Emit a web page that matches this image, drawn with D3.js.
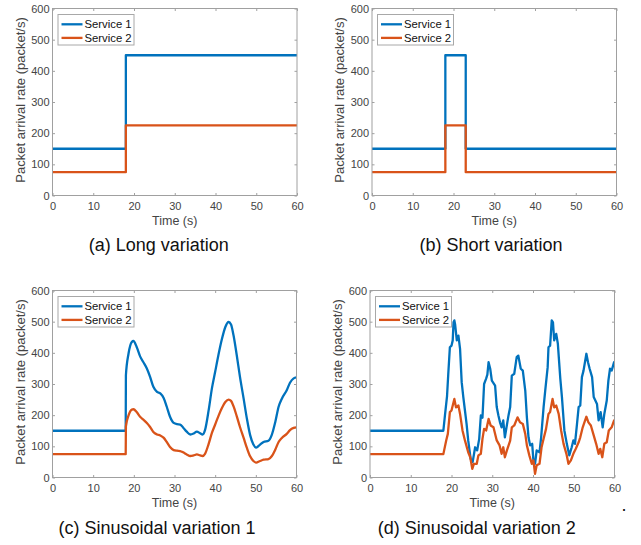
<!DOCTYPE html>
<html>
<head>
<meta charset="utf-8">
<script src="https://cdn.jsdelivr.net/npm/d3@7"></script>
<style>
  html, body { margin: 0; padding: 0; background: #fff; }
  svg { display: block; font-family: "Liberation Sans", Arial, sans-serif; }
</style>
</head>
<body>
<svg id="chart" width="641" height="545"></svg>
<script>
// ---- Axis settings shared by all four panels ----
const xTicks = [0, 10, 20, 30, 40, 50, 60];
const yTicks = [0, 100, 200, 300, 400, 500, 600];
const seriesNames = ["Service 1", "Service 2"];
const xLabel = "Time (s)";
const yLabel = "Packet arrival rate (packet/s)";

// ---- (a) Long variation ----
const timeLong = [0, 18, 18, 60];
const longS1 = [150, 150, 450, 450];
const longS2 = [75, 75, 225, 225];

// ---- (b) Short variation ----
const timeShort = [0, 18, 18, 23, 23, 60];
const shortS1 = [150, 150, 450, 450, 150, 150];
const shortS2 = [75, 75, 225, 225, 75, 75];

// ---- (c) Sinusoidal variation 1 ----
const timeSin1 = [0, 18, 18.05, 18.7, 19.5, 19.9, 20.7, 21.6, 22.4, 23.2, 24.0, 24.8, 25.7,
  26.5, 27.3, 28.1, 28.9, 29.8, 30.6, 31.4, 32.2, 33.0, 33.9, 34.7, 35.5, 36.3, 36.9, 37.5,
  38.4, 39.2, 40.0, 40.8, 41.6, 42.5, 43.3, 43.9, 44.5, 45.3, 46.1, 47.0, 47.8, 48.6, 49.4,
  50.1, 50.9, 51.9, 53.1, 53.9, 54.8, 55.6, 56.4, 57.6, 58.4, 59.3, 60];
const sin1S1 = [150, 150, 328, 398, 435, 438, 419, 387, 369, 350, 323, 291, 275,
  270, 256, 227, 195, 175, 171, 170, 159, 147, 138, 141, 147, 142, 138, 152,
  216, 286, 339, 393, 441, 483, 499, 491, 457, 393, 323, 253, 189, 136, 106,
  96, 104, 114, 118, 136, 179, 227, 253, 280, 304, 318, 321];
const sin1S2 = [75, 75, 164, 199, 218, 219, 210, 194, 185, 175, 162, 146, 138,
  135, 128, 114, 98, 88, 86, 85, 80, 74, 69, 71, 74, 71, 69, 76,
  108, 143, 170, 197, 221, 242, 250, 246, 229, 197, 162, 127, 95, 68, 53,
  48, 52, 57, 59, 68, 90, 114, 127, 140, 152, 159, 161];

// ---- (d) Sinusoidal variation 2 ----
const timeSin2S1 = [0, 18, 18.4, 18.9, 19.2, 19.6, 20.0, 20.3, 20.5, 20.7, 20.9, 21.3, 21.7,
  22.1, 22.5, 22.9, 23.3, 23.7, 24.1, 24.7, 25.2, 25.8, 26.3, 26.8, 27.2, 27.6, 28.0, 28.5,
  28.8, 29.1, 29.5, 29.9, 30.7, 31.1, 31.5, 31.9, 32.3, 32.7, 33.1, 33.7, 34.0, 34.4, 34.8,
  35.4, 36.0, 36.4, 37.0, 37.5, 38.1, 38.5, 38.9, 39.3, 39.8, 40.1, 40.5, 40.9, 41.6, 42.0,
  42.6, 43.0, 43.6, 43.8, 44.2, 44.6, 44.9, 45.2, 45.7, 46.1, 46.7, 47.1, 47.7, 48.3, 48.9,
  49.5, 49.9, 50.3, 50.8, 51.2, 51.6, 52.0, 52.4, 53.1, 53.5, 53.9, 54.5, 54.9, 55.3, 55.7,
  56.1, 56.6, 57.1, 57.5, 58.1, 58.5, 58.9, 59.3, 59.9, 60];
const sin2S1 = [150, 150, 200, 260, 330, 418, 423, 440, 498, 504, 490, 440, 455,
  413, 306, 258, 215, 172, 119, 60, 50, 97, 87, 124, 199, 192, 300, 317,
  330, 370, 349, 311, 295, 226, 200, 177, 161, 183, 129, 177, 200, 226, 327,
  333, 386, 391, 349, 343, 279, 193, 129, 103, 108, 55, 44, 87, 81, 129,
  226, 279, 354, 418, 423, 504, 498, 440, 461, 429, 317, 258, 151, 108, 71,
  97, 119, 108, 172, 226, 231, 322, 343, 397, 370, 349, 322, 258, 247, 236,
  183, 210, 161, 204, 247, 311, 349, 343, 370, 370];
const timeSin2S2 = [0, 18, 18.7, 19.1, 19.6, 20.0, 20.7, 21.1, 21.7, 22.1, 22.7, 23.3, 24.1,
  24.6, 25.1, 25.5, 26.2, 26.6, 27.2, 27.6, 28.0, 28.5, 29.1, 29.6, 30.3, 31.1, 31.8, 32.3,
  32.7, 33.1, 33.6, 34.4, 34.8, 35.4, 36.2, 36.8, 37.5, 38.1, 38.5, 39.1, 39.7, 40.1, 40.5,
  40.9, 41.6, 42.1, 42.6, 43.2, 43.8, 44.2, 44.8, 45.2, 45.7, 46.3, 46.9, 47.5, 48.2, 48.7,
  49.3, 49.9, 50.5, 51.2, 51.6, 52.2, 53.1, 53.6, 54.2, 54.9, 55.5, 56.1, 56.5, 57.0, 57.5,
  58.1, 58.6, 59.3, 59.9, 60];
const sin2S2 = [75, 75, 119, 140, 210, 215, 252, 225, 231, 204, 151, 119, 81,
  65, 28, 44, 44, 71, 76, 124, 156, 151, 188, 167, 161, 119, 103, 76,
  97, 65, 87, 118, 161, 167, 193, 177, 172, 140, 103, 71, 44, 55, 12,
  39, 44, 97, 124, 156, 204, 210, 252, 225, 231, 204, 151, 108, 76, 44,
  55, 76, 92, 113, 129, 161, 195, 177, 167, 135, 108, 76, 92, 65, 108,
  113, 151, 161, 183, 183];

const colors = ["#0072BD", "#D95319"];

const zip = (t, v) => t.map((x, i) => ({ t: x, v: v[i] }));

// panel boxes in page pixels; captionX is the centre of each subfigure caption
const panels = [
  { caption: "(a) Long variation", left: 52.5, top: 8.5, width: 244.5, height: 187,
    captionX: 158.7, captionY: 251,
    series: [zip(timeLong, longS1), zip(timeLong, longS2)], curve: d3.curveLinear },
  { caption: "(b) Short variation", left: 372, top: 8.5, width: 244.5, height: 187,
    captionX: 491, captionY: 251,
    series: [zip(timeShort, shortS1), zip(timeShort, shortS2)], curve: d3.curveLinear },
  { caption: "(c) Sinusoidal variation 1", left: 52.5, top: 290.5, width: 244, height: 187,
    captionX: 157, captionY: 534,
    series: [zip(timeSin1, sin1S1), zip(timeSin1, sin1S2)], curve: d3.curveMonotoneX },
  { caption: "(d) Sinusoidal variation 2", left: 370, top: 290.5, width: 244.5, height: 187,
    captionX: 476.7, captionY: 534,
    series: [zip(timeSin2S1, sin2S1), zip(timeSin2S2, sin2S2)], curve: d3.curveLinear }
];

const svg = d3.select("#chart");
const tickLen = 2.5;
const axisColor = "#a0a0a0";
const textColor = "#444";

panels.forEach((p, pi) => {
  const g = svg.append("g").attr("transform", `translate(${p.left},${p.top})`);
  const x = d3.scaleLinear().domain([0, 60]).range([0, p.width]);
  const y = d3.scaleLinear().domain([0, 600]).range([p.height, 0]);

  // data lines, clipped to the plot box
  const clipId = "clip" + pi;
  g.append("clipPath").attr("id", clipId)
    .append("rect").attr("x", 0).attr("y", -1).attr("width", p.width).attr("height", p.height + 2);

  const line = d3.line().x(d => x(d.t)).y(d => y(d.v)).curve(p.curve);
  const lines = g.append("g").attr("clip-path", `url(#${clipId})`);
  p.series.forEach((s, i) => {
    lines.append("path").datum(s)
      .attr("d", line)
      .attr("fill", "none")
      .attr("stroke", colors[i])
      .attr("stroke-width", 2.3)
      .attr("stroke-linejoin", "round");
  });

  // axes with inward ticks on all four sides
  const styleAxis = sel => {
    sel.select(".domain").remove();
    sel.selectAll(".tick line").attr("stroke", axisColor);
    sel.selectAll(".tick text").attr("fill", textColor).style("font-size", "11px")
      .style("font-family", "'Liberation Sans', Arial, sans-serif");
  };
  g.append("g").attr("transform", `translate(0,${p.height})`)
    .call(d3.axisBottom(x).tickValues(xTicks).tickSizeInner(-tickLen).tickSizeOuter(0).tickPadding(7))
    .call(styleAxis);
  g.append("g")
    .call(d3.axisTop(x).tickValues(xTicks).tickSizeInner(-tickLen).tickSizeOuter(0).tickFormat(""))
    .call(styleAxis);
  g.append("g")
    .call(d3.axisLeft(y).tickValues(yTicks).tickSizeInner(-tickLen).tickSizeOuter(0).tickPadding(3))
    .call(styleAxis);
  g.append("g").attr("transform", `translate(${p.width},0)`)
    .call(d3.axisRight(y).tickValues(yTicks).tickSizeInner(-tickLen).tickSizeOuter(0).tickFormat(""))
    .call(styleAxis);

  g.append("rect")
    .attr("width", p.width).attr("height", p.height)
    .attr("fill", "none").attr("stroke", axisColor).attr("stroke-width", 1);

  // axis labels
  g.append("text")
    .attr("x", p.width / 2).attr("y", p.height + 29.5)
    .attr("text-anchor", "middle").attr("fill", textColor)
    .style("font-size", "12.5px").text(xLabel);
  g.append("text")
    .attr("transform", `translate(-28,${p.height / 2 - 2}) rotate(-90)`)
    .attr("text-anchor", "middle").attr("fill", textColor)
    .style("font-size", "13px").text(yLabel);

  // legend
  const lg = g.append("g").attr("transform", "translate(5.5,6)");
  lg.append("rect").attr("width", 76).attr("height", 30.5)
    .attr("fill", "#fff").attr("stroke", "#a8a8a8").attr("stroke-width", 1);
  seriesNames.forEach((name, i) => {
    const cy = 9.8 + i * 13.6;
    lg.append("line").attr("x1", 3.5).attr("x2", 24.5).attr("y1", cy).attr("y2", cy)
      .attr("stroke", colors[i]).attr("stroke-width", 2.3);
    lg.append("text").attr("x", 26.5).attr("y", cy).attr("dy", "0.36em")
      .attr("fill", "#111").style("font-size", "11.3px").text(name);
  });

  // caption under the panel
  svg.append("text")
    .attr("x", p.captionX).attr("y", p.captionY)
    .attr("text-anchor", "middle").attr("fill", "#111")
    .style("font-size", "18px").text(p.caption);
});

svg.append("text").attr("x", 621.5).attr("y", 511).attr("fill", "#111")
  .style("font-size", "18px").text(".");
</script>
</body>
</html>
